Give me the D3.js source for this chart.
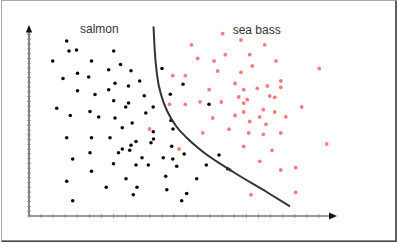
<!DOCTYPE html>
<html><head><meta charset="utf-8">
<script src="https://cdn.jsdelivr.net/npm/d3@7"></script>
<style>html,body{margin:0;padding:0;background:#fff;}svg{display:block;}</style>
</head><body><svg id="c" width="399" height="244"></svg>
<script>
// feature units (x: lightness, y: width)
const salmonX = [37.7,40,47.5,84.7,23.7,62.5,91.5,79.7,102,133,48.5,34,59.7,110.7,86,99.5,154,48.5,79.7,66,115.3,141.3,84.7,99.5,96.7,124.2,27.7,61,116.8,41.3,69.7,86,142,103.2,93.3,144,37.7,62.5,81,124.3,124.5,107,102,122,93.3,100.7,89.5,142.7,155.2,43.7,61,113,134.2,143.8,84.5,107,119.3,147.7,62.5,97,136.7,167.7,37.7,77.2,108,137.8,104.3,157.7,43.7,152.7,180,190,177.3,198.7];
const salmonY = [175,165,166,165,155,155,151.5,146.3,145.2,147.5,142.7,137.5,139,135,132.8,130,131.7,125.3,126.3,121.5,120.3,121.7,115.3,113,109,109,107.8,104.5,103,100.5,99,98,95.5,93,88.3,87,78.3,78.3,78.3,84.3,77,74.5,70.7,73.2,67,65.8,63.3,69.7,62,57,63.3,58.3,58.3,57,52.3,51,51,49.7,44.7,37.3,39.8,37.3,34.8,28.7,28.7,26.3,21.3,22.5,15.2,15.2,111.7,61,51,47.3];
const bassX = [162.5,168.7,143.8,156.3,140.5,156.3,171,193.7,212,235.7,196.3,220.7,185,247,223.3,290.2,188.7,212,251.8,206,238.3,251.8,180.2,214.7,228.3,209.7,240.7,245.7,218.3,192.3,214.7,272.7,234.3,214.7,245.7,183.7,206,230.7,256.8,220.7,237,173.7,200,219.7,234.3,251.8,297.7,214.7,243,230.7,251.8,266.7,201,222,266.7,120.5,150];
const bassY = [171.2,157.5,140.3,140.3,111.7,111.7,114.2,182.3,176,171.2,161.3,161.3,155,155,150,147.5,145,143.7,135,132.5,130,128.7,126.3,126.3,127.7,119,120,118.7,116.3,114,112.8,109,106.3,104,104,98,100.5,99,99.2,94.5,91.7,83.2,86.8,83,81.7,83,72,69.5,65.7,54.7,46,48.3,46,21.3,23.7,87,67];
const boundaryX = [124.5,125.7,128.3,132.7,139.3,147,158,171,204.3,237.7,261];
const boundaryY = [189.5,166,139.3,119.3,102.7,90,78,66.5,44,24,9.7];
const labels = ["salmon","sea bass"];
const labelPos = [[51,183],[203.7,182.5]];
const xTicks = d3.range(0, 291, 12.08);
const yTicks = d3.range(0, 184, 4.775);

const svg = d3.select("#c");
const x = d3.scaleLinear().domain([0,308]).range([29,337]);
const y = d3.scaleLinear().domain([0,191]).range([216,25]);

// frame
svg.append("rect").attr("x",1.5).attr("y",0.5).attr("width",394.5).attr("height",240.5)
  .attr("fill","none").attr("stroke","#a8a8a8").attr("stroke-width",1);
svg.append("path").attr("d","M396,0.5V241.3H1.5").attr("fill","none").attr("stroke","#444").attr("stroke-width",1.6);

// axes
const ax = svg.append("g");
ax.append("line").attr("x1",x(0)).attr("x2",x(302)).attr("y1",y(0)).attr("y2",y(0)).attr("stroke","#777").attr("stroke-width",1.6);
ax.append("line").attr("x1",x(0)).attr("x2",x(0)).attr("y1",y(0)).attr("y2",y(186)).attr("stroke","#666").attr("stroke-width",1.6);
ax.selectAll(".xt").data(xTicks).join("line").attr("x1",d=>x(d)).attr("x2",d=>x(d))
  .attr("y1",y(0)-2).attr("y2",y(0)+2).attr("stroke","#888").attr("stroke-width",0.8);
ax.selectAll(".yt").data(yTicks).join("line").attr("y1",d=>y(d)).attr("y2",d=>y(d))
  .attr("x1",x(0)-2).attr("x2",x(0)+2).attr("stroke","#888").attr("stroke-width",0.8);
ax.append("path").attr("d",`M${x(308)},${y(0)}l-8,-3.5v7z`).attr("fill","#111");
ax.append("path").attr("d",`M${x(0)},${y(191)}l-3.2,7.5h6.4z`).attr("fill","#111");

// points
svg.append("g").selectAll("circle").data(bassX.map((v,i)=>[v,bassY[i]])).join("circle")
  .attr("cx",d=>x(d[0])).attr("cy",d=>y(d[1])).attr("r",1.9).attr("fill","#ff7b7b");
svg.append("g").selectAll("circle").data(salmonX.map((v,i)=>[v,salmonY[i]])).join("circle")
  .attr("cx",d=>x(d[0])).attr("cy",d=>y(d[1])).attr("r",1.8).attr("fill","#0a0a0a");

// decision boundary
const line = d3.line().x(d=>x(d[0])).y(d=>y(d[1])).curve(d3.curveMonotoneX);
svg.append("path").datum(boundaryX.map((v,i)=>[v,boundaryY[i]])).attr("d",line)
  .attr("fill","none").attr("stroke","#333").attr("stroke-width",2);

// labels
svg.append("g").selectAll("text").data(labels).join("text")
  .attr("x",(d,i)=>x(labelPos[i][0])).attr("y",(d,i)=>y(labelPos[i][1]))
  .attr("font-family","Liberation Sans, Arial, sans-serif").attr("font-size",12)
  .attr("fill","#333").text(d=>d);
</script></body></html>
